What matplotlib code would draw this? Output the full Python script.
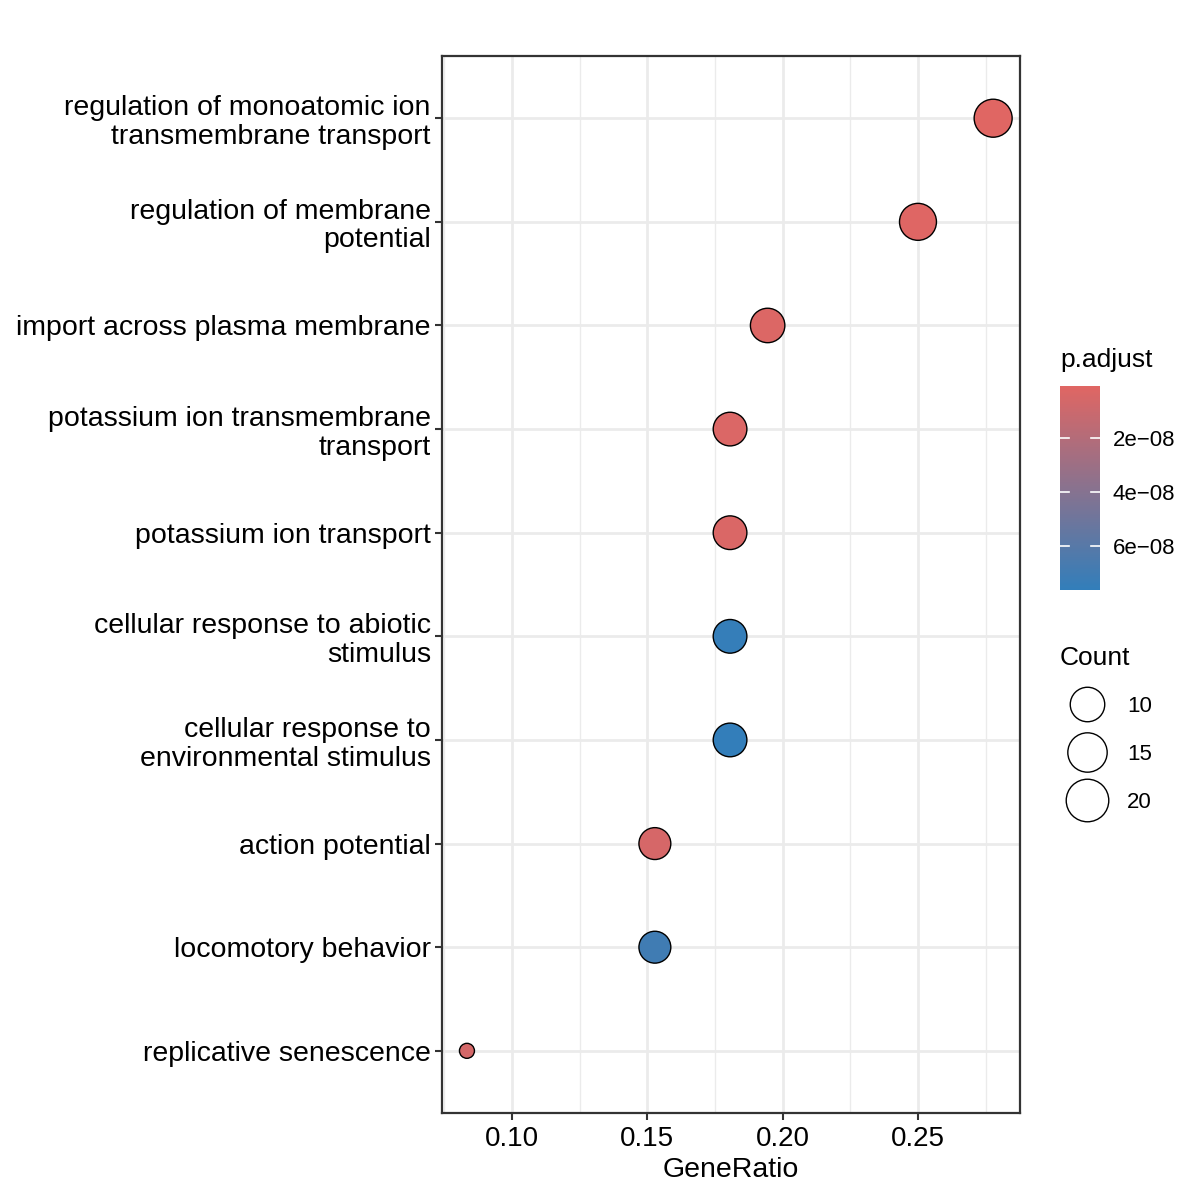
import numpy as np
import matplotlib
matplotlib.use('Agg')
import matplotlib.pyplot as plt
from matplotlib.colors import LinearSegmentedColormap, Normalize
from matplotlib.lines import Line2D
from matplotlib.ticker import FuncFormatter

plt.rcParams['font.family'] = ['Liberation Sans', 'DejaVu Sans']

terms = ['regulation of monoatomic ion\ntransmembrane transport',
         'regulation of membrane\npotential',
         'import across plasma membrane',
         'potassium ion transmembrane\ntransport',
         'potassium ion transport',
         'cellular response to abiotic\nstimulus',
         'cellular response to\nenvironmental stimulus',
         'action potential',
         'locomotory behavior',
         'replicative senescence']
gene_ratio = [20 / 72, 18 / 72, 14 / 72, 13 / 72, 13 / 72, 13 / 72, 13 / 72, 11 / 72, 11 / 72, 6 / 72]
counts = [20, 18, 14, 13, 13, 13, 13, 11, 11, 6]
p_adjust = [7.5e-10, 1.6e-09, 2.6e-09, 3.2e-09, 3.6e-09, 7.5e-08, 7.6e-08, 5.0e-09, 7.0e-08, 6.0e-09]
size_breaks = [10, 15, 20]
cbar_ticks = [2e-08, 4e-08, 6e-08]

px = 0.72  # points per pixel at dpi 100


def diam(c):
    c = np.asarray(c, dtype=float)
    return (15 + 23 * ((c - 6) / 14) ** 0.3) * px


cmap = LinearSegmentedColormap.from_list('padj', ['#e06663', '#327eba'])
norm = Normalize(vmin=7.4e-10, vmax=7.63e-08)

fig = plt.figure(figsize=(12, 12), dpi=100, facecolor='white')
ax = fig.add_axes([0.3683, 0.0725, 0.4817, 0.8808])

y = np.arange(len(terms))
ax.scatter(gene_ratio, y, s=diam(counts) ** 2, c=p_adjust, cmap=cmap, norm=norm,
           edgecolors='black', linewidths=1.0, zorder=3)

ax.set_ylim(len(terms) - 0.4, -0.6)
ax.set_xlim(0.0741, 0.2877)
ax.set_yticks(y)
ax.set_yticklabels(terms, fontsize=20.5, linespacing=1.13)
ax.set_xticks([0.10, 0.15, 0.20, 0.25])
ax.set_xticklabels(['0.10', '0.15', '0.20', '0.25'], fontsize=20)
ax.set_xticks([0.075, 0.125, 0.175, 0.225, 0.275], minor=True)
ax.set_xlabel('GeneRatio', fontsize=20.5, labelpad=4)

ax.grid(True, which='major', color='#ebebeb', linewidth=2.0, zorder=0)
ax.grid(True, which='minor', axis='x', color='#ebebeb', linewidth=1.0, zorder=0)
ax.set_axisbelow(True)
for sp in ax.spines.values():
    sp.set_color('#333333')
    sp.set_linewidth(1.6)
ax.tick_params(axis='both', which='major', length=5, width=1.5, color='#333333',
               labelcolor='black', pad=4)
ax.tick_params(axis='y', which='major', pad=3)
ax.tick_params(axis='x', which='minor', length=0)

# colour bar
cax = fig.add_axes([0.8833, 0.5083, 0.0333, 0.17])
sm = plt.cm.ScalarMappable(cmap=cmap, norm=norm)
cb = fig.colorbar(sm, cax=cax)
cb.outline.set_visible(False)
cax.invert_yaxis()
cb.set_ticks(cbar_ticks)
cb.ax.yaxis.set_major_formatter(FuncFormatter(lambda v, p: f'{v:.0e}'.replace('-', '\u2212')))
cax.tick_params(length=0, labelsize=16, pad=9)
for t in cbar_ticks:
    cax.plot([0, 0.22], [t, t], color='white', lw=1.2, transform=cax.get_yaxis_transform())
    cax.plot([0.78, 1], [t, t], color='white', lw=1.2, transform=cax.get_yaxis_transform())
fig.text(0.8833, 0.69, 'p.adjust', fontsize=19, ha='left', va='bottom')

# size legend
handles = [Line2D([], [], linestyle='none', marker='o', markerfacecolor='none',
                  markeredgecolor='black', markeredgewidth=1.0,
                  markersize=float(diam(b)) * 1.12) for b in size_breaks]
leg = fig.legend(handles, [str(b) for b in size_breaks], title='Count',
                 loc='upper left', bbox_to_anchor=(0.8833, 0.462), frameon=False,
                 fontsize=16, title_fontsize=19, labelspacing=1.2,
                 handlelength=2.4, handletextpad=0.63, borderpad=0.0,
                 borderaxespad=0.0)
leg._legend_box.align = 'left'

fig.savefig('out.png', dpi=100, facecolor='white')
